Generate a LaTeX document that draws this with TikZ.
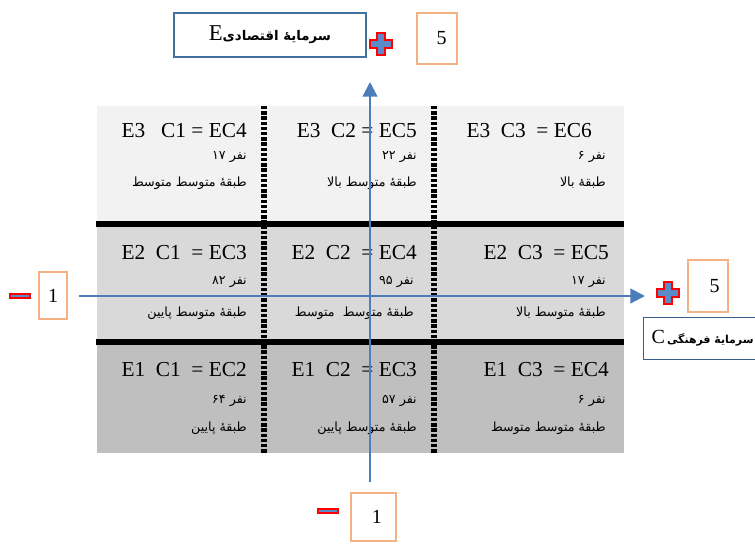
\documentclass[tikz,border=0pt]{standalone}
\usepackage{fontspec}
\setmainfont{Liberation Serif}
\newfontfamily\fa[Script=Arabic]{DejaVu Sans}
\TeXXeTstate=1
\usetikzlibrary{arrows.meta}
\definecolor{axblue}{HTML}{4A7EBB}
\definecolor{boxblue}{HTML}{41719C}
\definecolor{capblue}{HTML}{3A5F8A}
\definecolor{numorange}{HTML}{F4B183}
\definecolor{rowhi}{HTML}{F2F2F2}
\definecolor{rowmid}{HTML}{D9D9D9}
\definecolor{rowlo}{HTML}{BFBFBF}
\definecolor{signred}{HTML}{FF0000}
\definecolor{signblue}{HTML}{5B8BC9}

\begin{document}
\begin{tikzpicture}[x=0.75pt, y=-0.75pt,
  head/.style={anchor=east, inner sep=0pt, font=\fontsize{16}{18}\selectfont},
  sub/.style={anchor=east, inner sep=0pt, font=\fontsize{9.5}{11}\selectfont\fa},
  numbox/.style={draw=numorange, line width=1.6pt, fill=white, inner sep=0pt,
                 font=\fontsize{15}{17}\selectfont},
  capbox/.style={draw=boxblue, line width=1.5pt, fill=white, inner sep=0pt},
  ax/.style={-{Triangle[length=11pt,width=11pt]}, line width=1.6pt, draw=axblue},
  sep/.style={line width=4.5pt},
  dots/.style={line width=3.8pt, dash pattern=on 2.6pt off 1.3pt},
  plusmark/.pic={\filldraw[fill=signblue, draw=signred, line width=1.5pt]
    (-4,-11) -- (4,-11) -- (4,-4) -- (11,-4) -- (11,4) -- (4,4) -- (4,11)
    -- (-4,11) -- (-4,4) -- (-11,4) -- (-11,-4) -- (-4,-4) -- cycle;},
  minusmark/.pic={\filldraw[fill=signblue, draw=signred, line width=1.5pt]
    (-10,-2.2) rectangle (10,2.2);}]
\useasboundingbox (0,0) rectangle (755,544);
\clip (0,0) rectangle (755,544);

% ---- rows of the grid ------------------------------------------------
\fill[rowhi]  (97,106) rectangle (624,221);
\fill[rowmid] (97,227) rectangle (624,339);
\fill[rowlo]  (97,345) rectangle (624,453);
\draw[sep] (96,224) -- (624,224);
\draw[sep] (96,342) -- (624,342);
\foreach \x in {264,434} {
  \draw[dots, white] (\x,106) -- (\x,453);
  \draw[dots, black] (\x,106) -- (\x,453);
}

% ---- cells -------------------------------------------------------------
\foreach \n/\hx/\sx/\hy/\ny/\ty/\hd/\nm/\cl in {
  a/247/247/131/157/183/{E3~~~C1 = EC4}/۱۷/{طبقهٔ متوسط متوسط},
  b/417/417/131/157/183/{E3~~C2 = EC5}/۲۲/{طبقهٔ متوسط بالا},
  c/592/606/131/157/183/{E3~~C3~~= EC6}/۶/{طبقهٔ بالا},
  d/247/247/253/282/313/{E2~~C1~~= EC3}/۸۲/{طبقهٔ متوسط پایین},
  e/417/414/253/282/313/{E2~~C2~~= EC4}/۹۵/{طبقهٔ متوسط\ \ متوسط},
  f/609/606/253/282/313/{E2~~C3~~= EC5}/۱۷/{طبقهٔ متوسط بالا},
  g/247/247/370/401/428/{E1~~C1~~= EC2}/۶۴/{طبقهٔ پایین},
  h/417/417/370/401/428/{E1~~C2~~= EC3}/۵۷/{طبقهٔ متوسط پایین},
  i/609/606/370/401/428/{E1~~C3~~= EC4}/۶/{طبقهٔ متوسط متوسط}} {
  \node[head] (h\n) at (\hx,\hy) {\hd};
  \node[sub] (n\n) at (\sx,\ny) {\mbox{\nm}\ \mbox{نفر}};
  \node[sub] (t\n) at (\sx,\ty) {\beginR\cl\endR};
}

% ---- axis labels -------------------------------------------------------
\node[capbox, minimum width=144pt, minimum height=33pt] (etitle) at (270,35)
  {{\fontsize{17}{19}\selectfont E}{\fa\bfseries\fontsize{10}{12}\selectfont\beginR سرمایهٔ اقتصادی\endR}};
\node[numbox, minimum width=30pt, minimum height=38pt] (emax) at (437,38.5)
  {\hspace*{7pt}5};
\node[numbox, minimum width=21pt, minimum height=35pt] (cmin) at (53,295.5) {1};
\node[numbox, minimum width=30pt, minimum height=39pt] (cmax) at (708,286)
  {\hspace*{10pt}5};
\node[numbox, minimum width=34pt, minimum height=36pt] (emin) at (373.5,517)
  {\hspace*{5pt}1};
\node[capbox, draw=capblue, line width=0.9pt, anchor=west, inner xsep=6pt,
      minimum height=31pt] (ctitle) at (643,338.5)
  {{\fontsize{15}{17}\selectfont C}\,{\fa\bfseries\fontsize{8.2}{10}\selectfont\beginR سرمایهٔ فرهنگی\endR}};

\pic at (381,44) {plusmark};
\pic at (668,292.5) {plusmark};
\pic at (19.5,296) {minusmark};
\pic at (328,511) {minusmark};

% ---- axes --------------------------------------------------------------
\coordinate (ebot) at (370,482);
\coordinate (etop) at (370,82);
\coordinate (cleft) at (79,296);
\coordinate (cright) at (645,296);
\draw[ax] (ebot) -- (etop);
\draw[ax] (cleft) -- (cright);
\end{tikzpicture}
\end{document}
